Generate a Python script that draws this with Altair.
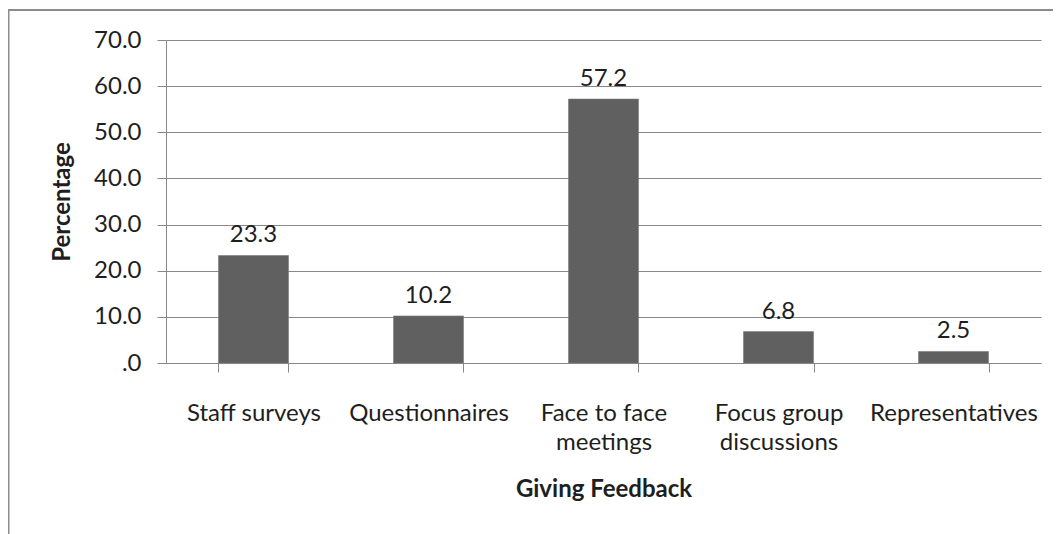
import altair as alt
import pandas as pd

categories = ["Staff surveys", "Questionnaires", "Face to face meetings",
              "Focus group discussions", "Representatives"]
values = [23.3, 10.2, 57.2, 6.8, 2.5]
y_ticks = [0, 10, 20, 30, 40, 50, 60, 70]

df = pd.DataFrame({"category": categories, "value": values})

FONT = "Lato"
FS = 24
GRID = "#888888"
TXT = "#1e1e1e"

x_enc = alt.X(
    "category:N", sort=categories,
    scale=alt.Scale(paddingInner=0.6, paddingOuter=0.3),
    axis=alt.Axis(
        title="Giving Feedback", titleFont=FONT, titleFontSize=FS, titleFontWeight="bold",
        titleColor=TXT, titleX=437.5, titleY=126, titleBaseline="middle",
        labelFont=FONT, labelFontSize=FS, labelColor=TXT, labelAngle=0,
        labelPadding=29, labelLineHeight=29,
        labelExpr="datum.label == 'Face to face meetings' ? ['Face to face', 'meetings'] : "
                  "datum.label == 'Focus group discussions' ? ['Focus group', 'discussions'] : datum.label",
        tickBand="extent", tickSize=9, tickColor=GRID, domainColor=GRID,
        labelOverlap=False, grid=False,
    ),
)

y_enc = alt.Y(
    "value:Q",
    scale=alt.Scale(domain=[0, 70], nice=False),
    axis=alt.Axis(
        title="Percentage", titleFont=FONT, titleFontSize=FS, titleFontWeight="bold",
        titleColor=TXT, titleX=-104, titleY=161.5, titleBaseline="middle", titleAngle=-90,
        labelFont=FONT, labelFontSize=FS, labelColor=TXT, labelPadding=16,
        labelExpr="datum.value == 0 ? '.0' : format(datum.value, '.1f')",
        values=y_ticks, tickSize=9, tickColor=GRID, domainColor=GRID,
        grid=True, gridColor=GRID, gridWidth=1,
    ),
)

bars = alt.Chart(df).mark_bar(color="#606060", stroke="#7a7a7a", strokeWidth=0.6).encode(
    x=x_enc, y=y_enc
)

labels = alt.Chart(df).mark_text(
    font=FONT, fontSize=FS, color=TXT, baseline="middle", dy=-20
).encode(
    x=alt.X("category:N", sort=categories),
    y="value:Q",
    text=alt.Text("value:Q", format=".1f"),
)

frame_data = alt.Data(values=[{"k": 1}])
left_border = alt.Chart(frame_data).mark_rule(color="#8c8c8c", strokeWidth=2).encode(
    x=alt.value(-157.5), y=alt.value(-30), y2=alt.value(600)
)
top_border = alt.Chart(frame_data).mark_rule(color="#8c8c8c", strokeWidth=2).encode(
    x=alt.value(-160), x2=alt.value(1000), y=alt.value(-30)
)

chart = alt.layer(bars, labels, left_border, top_border).properties(
    width=875, height=323,
    autosize=alt.AutoSizeParams(type="none"),
    padding={"left": 158, "top": 32, "right": 12, "bottom": 171},
    background="white",
).configure_view(strokeWidth=0)

chart.save("out.html", embed_options={"renderer": "svg", "actions": False})
